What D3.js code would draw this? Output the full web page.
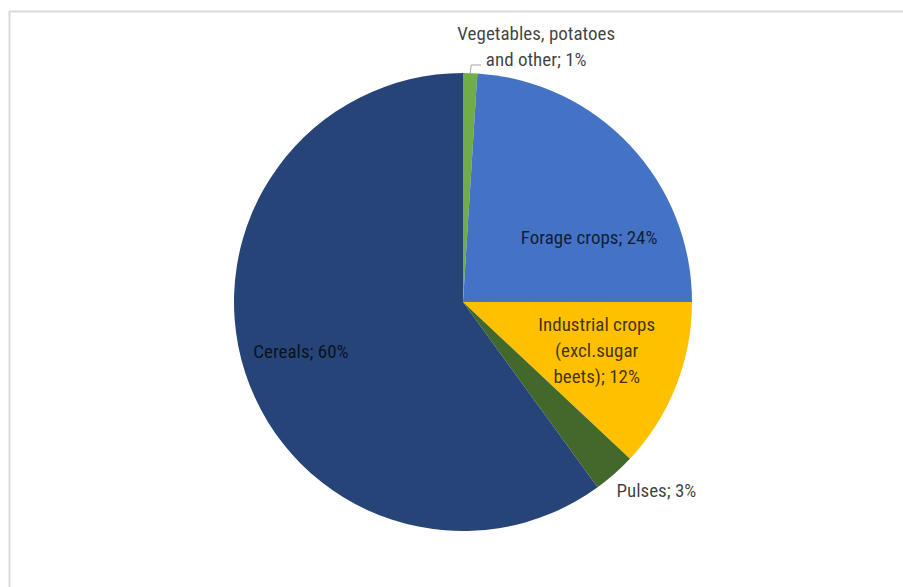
<!DOCTYPE html>
<html>
<head>
<meta charset="utf-8">
<script src="https://cdn.jsdelivr.net/npm/d3@7"></script>
<style>
  html, body { margin: 0; padding: 0; background: #fff; }
  svg { display: block; }
  text { font-family: "Liberation Sans Narrow", "Arial Narrow", "Roboto Condensed", "DejaVu Sans Condensed", sans-serif; }
</style>
</head>
<body>
<svg id="chart" width="903" height="587"></svg>
<script>
// Crop area shares (%), clockwise from the top
const categories = ["Vegetables, potatoes and other", "Forage crops", "Industrial crops (excl.sugar beets)", "Pulses", "Cereals"];
const values = [1, 24, 12, 3, 60];
const colors = ["#70AD47", "#4472C4", "#FFC000", "#43682B", "#264478"];
// Label text, split into lines
const labelLines = [
  ["Vegetables, potatoes", "and other; 1%"],
  ["Forage crops; 24%"],
  ["Industrial crops", "(excl.sugar", "beets); 12%"],
  ["Pulses; 3%"],
  ["Cereals; 60%"]
];
// Label anchor in polar terms: angle (deg, clockwise from top) and radius fraction
const labelAngle = [16, 62.7, 109.7, 134.3, 253];
const labelRadius = [1.16, 0.62, 0.62, 1.18, 0.74];

const W = 903, H = 587;
const cx = 463, cy = 302, R = 229;

const svg = d3.select("#chart");

// chart frame
svg.append("line").attr("x1", 9).attr("x2", W).attr("y1", 11.5).attr("y2", 11.5)
  .attr("stroke", "#d9d9d9").attr("stroke-width", 2);
svg.append("line").attr("x1", 9.5).attr("x2", 9.5).attr("y1", 11).attr("y2", H)
  .attr("stroke", "#d9d9d9").attr("stroke-width", 2);

const data = categories.map((c, i) => ({ name: c, value: values[i], color: colors[i], lines: labelLines[i] }));

const pie = d3.pie().value(d => d.value).sort(null);
const arc = d3.arc().innerRadius(0).outerRadius(R);
const arcs = pie(data);

const g = svg.append("g").attr("transform", `translate(${cx},${cy})`);

g.selectAll("path.slice")
  .data(arcs)
  .join("path")
  .attr("class", "slice")
  .attr("d", arc)
  .attr("fill", d => d.data.color);

// leader line for the small vegetables slice
const veg = arcs[0];
const vegMid = (veg.startAngle + veg.endAngle) / 2;
const p0 = [Math.sin(vegMid) * R, -Math.cos(vegMid) * R];
const p1 = [p0[0] + 1, -R - 8];
const p2 = [p1[0] + 10, p1[1]];
g.append("polyline")
  .attr("points", [p0, p1, p2].map(p => p.join(",")).join(" "))
  .attr("fill", "none")
  .attr("stroke", "#a6a6a6")
  .attr("stroke-width", 1);

const fontSize = 19, lineH = 26;
const labels = g.selectAll("text.lbl")
  .data(arcs)
  .join("text")
  .attr("class", "lbl")
  .attr("text-anchor", "middle")
  .attr("font-size", fontSize)
  .attr("fill", "#000")
  .attr("fill-opacity", 0.75)
  .attr("transform", (d, i) => {
    const a = labelAngle[i] * Math.PI / 180;
    const r = labelRadius[i] * R;
    return `translate(${Math.sin(a) * r},${-Math.cos(a) * r})`;
  });

labels.each(function (d) {
  const n = d.data.lines.length;
  d3.select(this).selectAll("tspan")
    .data(d.data.lines)
    .join("tspan")
    .attr("x", 0)
    .attr("y", (t, j) => (j - (n - 1) / 2) * lineH)
    .attr("dy", "0.35em")
    .text(t => t);
});
</script>
</body>
</html>
